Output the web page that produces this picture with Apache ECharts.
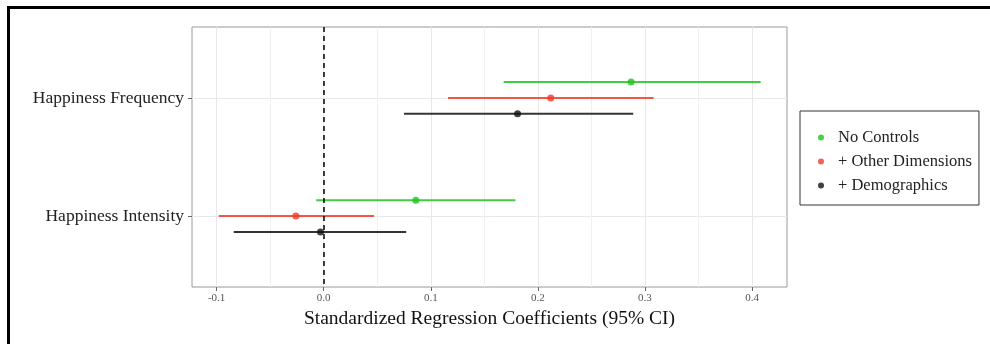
<!DOCTYPE html>
<html>
<head>
<meta charset="utf-8">
<script src="https://cdn.jsdelivr.net/npm/echarts@6/dist/echarts.min.js"></script>
<style>
  html, body { margin: 0; padding: 0; background: #fff; }
  #chart { width: 990px; height: 344px; }
</style>
</head>
<body>
<div id="chart"></div>
<script>
// outcomes (y categories) and models (legend)
const categories = ["Happiness Frequency", "Happiness Intensity"];
const models = ["No Controls", "+ Other Dimensions", "+ Demographics"];
// estimates and 95% CI, one array per model, same order as categories
const noControlsEst = [0.287, 0.086];
const noControlsLo = [0.168, -0.007];
const noControlsHi = [0.408, 0.179];
const otherDimEst = [0.212, -0.026];
const otherDimLo = [0.116, -0.098];
const otherDimHi = [0.308, 0.047];
const demoEst = [0.181, -0.003];
const demoLo = [0.075, -0.084];
const demoHi = [0.289, 0.077];
const xTicks = [-0.1, 0, 0.1, 0.2, 0.3, 0.4];
const xMinorTicks = [-0.05, 0.05, 0.15, 0.25, 0.35];

const colors = ["#1fc41f", "#f23a28", "#111111"];
const dodge = [-0.135, 0, 0.135];
const groups = [
  [noControlsEst, noControlsLo, noControlsHi],
  [otherDimEst, otherDimLo, otherDimHi],
  [demoEst, demoLo, demoHi]
];

const font = "Liberation Serif";
const chart = echarts.init(document.getElementById("chart"));

const series = [];
groups.forEach((g, m) => {
  // error bars
  series.push({
    type: "custom",
    name: models[m] + " CI",
    xAxisIndex: 0,
    yAxisIndex: 0,
    silent: true,
    data: categories.map((c, i) => [g[1][i], g[2][i], i + 1 + dodge[m]]),
    renderItem: (params, api) => {
      const a = api.coord([api.value(0), api.value(2)]);
      const b = api.coord([api.value(1), api.value(2)]);
      return {
        type: "line",
        shape: { x1: a[0], y1: a[1], x2: b[0], y2: b[1] },
        style: { stroke: colors[m], lineWidth: 2, opacity: 0.85 }
      };
    },
    z: 3
  });
});
groups.forEach((g, m) => {
  series.push({
    type: "scatter",
    name: models[m],
    xAxisIndex: 0,
    yAxisIndex: 0,
    symbolSize: 7,
    itemStyle: { color: colors[m] },
    data: categories.map((c, i) => [g[0][i], i + 1 + dodge[m]]),
    z: 5
  });
});
// dashed reference line at zero
series[0].markLine = {
  silent: true,
  symbol: "none",
  label: { show: false },
  lineStyle: { color: "#000", type: [5, 4], width: 1.5 },
  data: [{ xAxis: 0 }]
};

chart.setOption({
  animation: false,
  textStyle: { fontFamily: font },
  grid: {
    left: 192, top: 27, right: 203, bottom: 57,
    outerBoundsMode: "none",
    show: true, borderColor: "#9a9a9a", borderWidth: 1, backgroundColor: "#fff"
  },
  legend: {
    orient: "vertical",
    left: 800, top: 111,
    data: models,
    icon: "circle",
    itemWidth: 6, itemHeight: 6,
    itemGap: 7,
    padding: [18, 7, 11, 18],
    borderColor: "#333", borderWidth: 1,
    textStyle: { fontFamily: font, fontSize: 16.5, color: "#222", padding: [0, 0, 0, 9] }
  },
  xAxis: [
    {
      type: "value",
      min: -0.123, max: 0.4326,
      name: "Standardized Regression Coefficients (95% CI)",
      nameLocation: "middle",
      nameGap: 18,
      nameTextStyle: { fontFamily: font, fontSize: 19.5, color: "#111", verticalAlign: "top" },
      axisLine: { show: false, onZero: false },
      axisTick: { show: true, customValues: xTicks, length: 4, lineStyle: { color: "#666" } },
      axisLabel: {
        customValues: xTicks, fontSize: 11, color: "#555", margin: 6,
        formatter: v => v.toFixed(1)
      },
      splitLine: { show: true, lineStyle: { color: "#e8e8e8", width: 1 } }
    },
    {
      type: "value",
      min: -0.123, max: 0.4326,
      position: "bottom",
      axisLine: { show: false, onZero: false },
      axisTick: { show: false, customValues: xMinorTicks },
      axisLabel: { show: false, customValues: xMinorTicks },
      splitLine: { show: true, lineStyle: { color: "#f0f0f0", width: 1 } }
    }
  ],
  yAxis: {
    type: "value",
    inverse: true,
    min: 0.4, max: 2.6,
    axisLine: { show: false, onZero: false },
    axisTick: { show: true, customValues: [1, 2], length: 4, lineStyle: { color: "#666" } },
    axisLabel: {
      customValues: [1, 2], fontSize: 17.5, color: "#222", margin: 8,
      formatter: v => categories[Math.round(v) - 1]
    },
    splitLine: { show: true, lineStyle: { color: "#e8e8e8", width: 1 } }
  },
  graphic: [
    { type: "line", shape: { x1: 8, y1: 7.5, x2: 990, y2: 7.5 }, style: { stroke: "#000", lineWidth: 3 } },
    { type: "line", shape: { x1: 8.5, y1: 6, x2: 8.5, y2: 344 }, style: { stroke: "#000", lineWidth: 3 } }
  ],
  series: series
});
</script>
</body>
</html>
